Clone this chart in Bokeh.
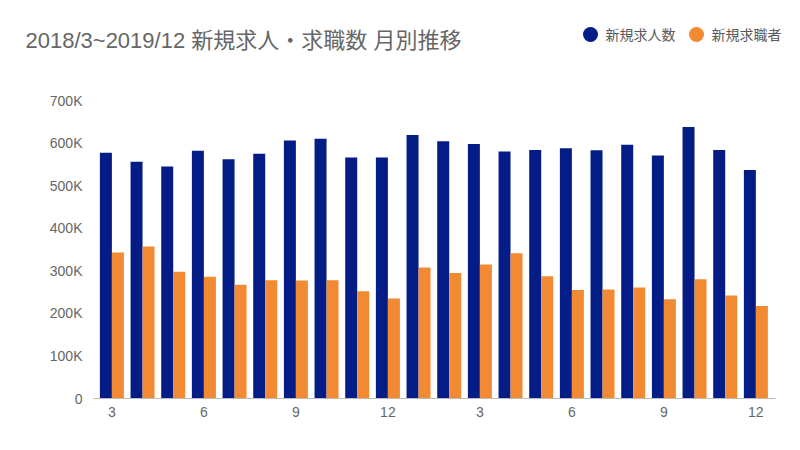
from bokeh.plotting import figure
from bokeh.layouts import column, row
from bokeh.models import Range1d, FixedTicker, Label
from bokeh.embed import file_html
from bokeh.resources import INLINE

months = ["3","4","5","6","7","8","9","10","11","12","1","2",
          "3","4","5","6","7","8","9","10","11","12"]
openings = [577, 556, 545, 582, 562, 575, 606, 610, 566, 566, 619, 604,
            598, 580, 584, 588, 583, 596, 571, 638, 584, 537]
seekers = [343, 357, 298, 286, 267, 278, 277, 278, 252, 235, 308, 295,
           315, 341, 287, 255, 256, 261, 233, 280, 242, 217]
tick_idx = [0, 3, 6, 9, 12, 15, 18, 21]
y_ticks = [0, 100000, 200000, 300000, 400000, 500000, 600000, 700000]
y_labels = ["0", "100K", "200K", "300K", "400K", "500K", "600K", "700K"]
series_names = ["新規求人数", "新規求職者"]
series_colors = ["#041C85", "#F28A33"]
title_text = "2018/3~2019/12 新規求人・求職数 月別推移"

FONT = "Liberation Sans, Noto Sans CJK JP"
W, HH, H = 784, 70, 364

# ---- header (title + legend) ----
hdr = figure(width=W, height=HH, output_backend="svg", toolbar_location=None,
             x_range=Range1d(0, W), y_range=Range1d(HH, 0),
             x_axis_location=None, y_axis_location=None,
             min_border=0, min_border_left=0, min_border_right=0,
             min_border_top=0, min_border_bottom=0)
hdr.outline_line_color = None
hdr.grid.visible = False
hdr.add_layout(Label(x=25, y=40, text=title_text, text_font=FONT,
                     text_font_size="22px", text_color="#666666",
                     text_baseline="middle", text_align="left"))
leg_x = [590, 696]
for cx, col, name in zip(leg_x, series_colors, series_names):
    hdr.scatter([cx], [34], marker="circle", size=15, fill_color=col, line_color=None)
    hdr.add_layout(Label(x=cx + 15, y=34, text=name, text_font=FONT,
                         text_font_size="14px", text_color="#5a5a5a",
                         text_baseline="middle", text_align="left"))

# ---- main chart ----
p = figure(width=W, height=H, output_backend="svg", toolbar_location=None,
           x_range=Range1d(-0.6, 21.64), y_range=Range1d(0, 700000),
           min_border_left=93, min_border_right=9, min_border_top=30,
           min_border_bottom=36)
p.outline_line_color = None
p.grid.grid_line_color = None

x = list(range(len(months)))
p.vbar(x=[i - 0.196 for i in x], top=[v * 1000 for v in openings], width=0.391,
       fill_color=series_colors[0], line_color=None)
p.vbar(x=[i + 0.196 for i in x], top=[v * 1000 for v in seekers], width=0.391,
       fill_color=series_colors[1], line_color=None)

p.xaxis.ticker = FixedTicker(ticks=tick_idx)
p.xaxis.major_label_overrides = {i: months[i] for i in tick_idx}
p.xaxis.axis_line_color = "#bbbbbb"
p.xaxis.major_tick_line_color = None
p.xaxis.minor_tick_line_color = None
p.xaxis.major_label_text_font = FONT
p.xaxis.major_label_text_font_size = "14px"
p.xaxis.major_label_text_color = "#666666"
p.xaxis.major_label_standoff = 2

p.yaxis.ticker = FixedTicker(ticks=y_ticks)
p.yaxis.major_label_overrides = dict(zip(y_ticks, y_labels))
p.yaxis.axis_line_color = None
p.yaxis.major_tick_line_color = None
p.yaxis.minor_tick_line_color = None
p.yaxis.major_label_text_font = FONT
p.yaxis.major_label_text_font_size = "14px"
p.yaxis.major_label_text_color = "#666666"
p.yaxis.major_label_standoff = 5

layout = column(row(hdr, spacing=0), p, spacing=0)
open("out.html", "w").write(file_html(layout, INLINE))
